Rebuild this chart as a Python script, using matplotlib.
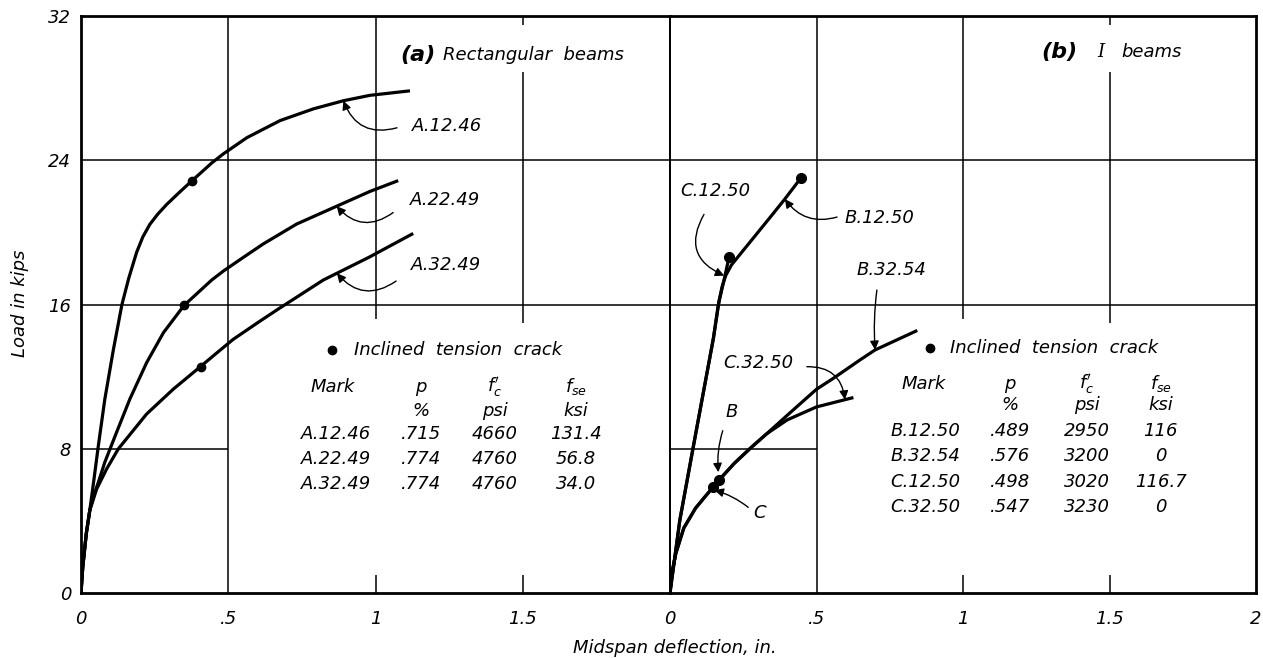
import numpy as np
import matplotlib
matplotlib.use("Agg")
import matplotlib.pyplot as plt

plt.rcParams['font.family'] = ['DejaVu Sans']
plt.rcParams['font.style'] = 'italic'
plt.rcParams['mathtext.fontset'] = 'dejavusans'

# ---------------- data (deflection in., load kips) ----------------
a1246_x = [0, 0.006, 0.018, 0.03, 0.044, 0.059, 0.081, 0.11, 0.139, 0.162, 0.189, 0.21, 0.234, 0.26, 0.291,
           0.336, 0.376, 0.444, 0.483, 0.563, 0.676, 0.789, 0.891, 0.981, 1.117]
a1246_y = [0, 1.45, 3.3, 4.6, 6.3, 8.18, 10.76, 13.5, 16.0, 17.45, 18.9, 19.75, 20.45, 21.0, 21.55,
           22.25, 22.85, 23.85, 24.35, 25.25, 26.2, 26.85, 27.3, 27.6, 27.85]
a2249_x = [0, 0.006, 0.018, 0.03, 0.045, 0.059, 0.081, 0.121, 0.166, 0.223, 0.28, 0.35, 0.444, 0.483, 0.55,
           0.619, 0.732, 0.868, 0.981, 1.077]
a2249_y = [0, 1.45, 3.3, 4.6, 5.5, 6.14, 7.26, 8.92, 10.76, 12.78, 14.44, 15.95, 17.36, 17.85, 18.6,
           19.36, 20.46, 21.45, 22.27, 22.87]
a3249_x = [0, 0.006, 0.018, 0.03, 0.04, 0.053, 0.087, 0.127, 0.223, 0.313, 0.406, 0.46, 0.517, 0.608, 0.67,
           0.823, 0.978, 1.128]
a3249_y = [0, 1.45, 3.3, 4.6, 5.1, 5.76, 6.88, 8.0, 9.93, 11.3, 12.56, 13.3, 14.07, 15.08, 15.75,
           17.36, 18.62, 19.94]

b1250_x = [0, 0.034, 0.0785, 0.148, 0.168, 0.178, 0.19, 0.21, 0.25, 0.3, 0.35, 0.392, 0.446]
b1250_y = [0, 4.07, 8.0, 14.13, 16.24, 17.0, 17.6, 18.2, 19.0, 20.0, 21.0, 21.85, 23.0]
c1250_x = [0, 0.033, 0.078, 0.148, 0.165, 0.185, 0.202]
c1250_y = [0, 4.0, 8.0, 14.1, 16.0, 17.4, 18.66]
b3254_x = [0, 0.005, 0.02, 0.047, 0.087, 0.12, 0.147, 0.167, 0.22, 0.279, 0.33, 0.41, 0.5, 0.557, 0.648, 0.70, 0.844]
b3254_y = [0, 1.0, 2.2, 3.6, 4.7, 5.35, 5.87, 6.26, 7.2, 8.1, 8.83, 10.0, 11.3, 11.9, 12.92, 13.48, 14.56]
c3250_x = [0, 0.005, 0.02, 0.047, 0.087, 0.12, 0.147, 0.167, 0.22, 0.279, 0.33, 0.4, 0.5, 0.626]
c3250_y = [0, 1.0, 2.2, 3.6, 4.7, 5.35, 5.87, 6.26, 7.2, 8.1, 8.83, 9.6, 10.32, 10.84]

# inclined tension crack points
crack_a_x = [0.376, 0.35, 0.406]
crack_a_y = [22.85, 15.95, 12.56]
crack_b_x = [0.446, 0.202, 0.167, 0.147]
crack_b_y = [23.0, 18.66, 6.26, 5.87]

# tables
tab_a_rows = [["A.12.46", ".715", "4660", "131.4"],
              ["A.22.49", ".774", "4760", "56.8"],
              ["A.32.49", ".774", "4760", "34.0"]]
tab_b_rows = [["B.12.50", ".489", "2950", "116"],
              ["B.32.54", ".576", "3200", "0"],
              ["C.12.50", ".498", "3020", "116.7"],
              ["C.32.50", ".547", "3230", "0"]]

y_ticks = [0, 8, 16, 24, 32]
x_ticks_a = [0, 0.5, 1, 1.5]
x_labels_a = ["0", ".5", "1", "1.5"]
x_ticks_b = [0, 0.5, 1, 1.5, 2]
x_labels_b = ["0", ".5", "1", "1.5", "2"]

# ---------------- figure ----------------
W, H = 1263, 658
fig = plt.figure(figsize=(W / 100, H / 100), dpi=100)
x0, x1, x2 = 81, 670, 1256
ybot, ytop = 593, 16
ax1 = fig.add_axes([x0 / W, (H - ybot) / H, (x1 - x0) / W, (ybot - ytop) / H])
ax2 = fig.add_axes([x1 / W, (H - ybot) / H, (x2 - x1) / W, (ybot - ytop) / H])

FS = 13
LW_CURVE = 2.3
LW_GRID = 1.1
K = 'black'

for ax, xt, xl in [(ax1, x_ticks_a, x_labels_a), (ax2, x_ticks_b, x_labels_b)]:
    ax.set_xlim(0, 2)
    ax.set_ylim(0, 32)
    ax.set_xticks(xt)
    ax.set_xticklabels(xl)
    ax.tick_params(axis='x', length=0, labelsize=FS, pad=12)
    ax.tick_params(axis='y', length=0, labelsize=FS, pad=7)
    for s in ax.spines.values():
        s.set_linewidth(2.0)
    # grid segments
    ax.hlines([24, 16], 0, 2, color=K, lw=LW_GRID)
    ax.hlines([8], 0, 0.5, color=K, lw=LW_GRID)
    ax.vlines([0.5], 0, 32, color=K, lw=LW_GRID)
    ax.vlines([1.0, 1.5], 0, 1.0, color=K, lw=LW_GRID)
    ax.vlines([1.0], 15.2, 32, color=K, lw=LW_GRID)
    ax.vlines([1.5], 15.0, 28.9, color=K, lw=LW_GRID)
    ax.vlines([1.5], 31.5, 32, color=K, lw=LW_GRID)

ax1.set_yticks(y_ticks)
ax1.set_yticklabels([str(v) for v in y_ticks])
ax2.set_yticks([])
ax2.spines['left'].set_linewidth(1.4)
ax1.spines['right'].set_linewidth(1.4)

# curves
for xs, ys in [(a1246_x, a1246_y), (a2249_x, a2249_y), (a3249_x, a3249_y)]:
    ax1.plot(xs, ys, color=K, lw=LW_CURVE, solid_capstyle='butt', solid_joinstyle='round')
for xs, ys in [(b1250_x, b1250_y), (c1250_x, c1250_y), (b3254_x, b3254_y), (c3250_x, c3250_y)]:
    ax2.plot(xs, ys, color=K, lw=LW_CURVE, solid_capstyle='butt', solid_joinstyle='round')
ax1.plot(crack_a_x, crack_a_y, 'o', color=K, ms=6, zorder=5)
ax2.plot(crack_b_x, crack_b_y, 'o', color=K, ms=7, zorder=5)

# annotations
def lead(ax, label, txy, tip, tail, rad, ha='left', va='center'):
    ax.text(txy[0], txy[1], label, fontsize=FS, ha=ha, va=va)
    ax.annotate('', xy=tip, xytext=tail,
                arrowprops=dict(arrowstyle='-|>', color=K, lw=1.0, mutation_scale=13,
                                shrinkA=0, shrinkB=0, connectionstyle='arc3,rad=%s' % rad))

lead(ax1, 'A.12.46', (1.124, 25.9), (0.891, float(np.interp(0.891, a1246_x, a1246_y))), (1.073, 25.8), -0.45)
lead(ax1, 'A.22.49', (1.117, 21.8), (0.868, float(np.interp(0.868, a2249_x, a2249_y))), (1.06, 21.1), -0.45)
lead(ax1, 'A.32.49', (1.12, 18.2), (0.869, float(np.interp(0.869, a3249_x, a3249_y))), (1.07, 17.3), -0.45)

lead(ax2, 'B.12.50', (0.597, 20.8), (0.392, float(np.interp(0.392, b1250_x, b1250_y))), (0.57, 20.85), -0.35)
lead(ax2, 'C.12.50', (0.154, 22.3), (0.185, 17.6), (0.116, 21.0), 0.55, ha='center')
lead(ax2, 'B.32.54', (0.755, 17.93), (0.70, float(np.interp(0.70, b3254_x, b3254_y))), (0.706, 16.8), 0.05, ha='center')
lead(ax2, 'C.32.50', (0.301, 12.75), (0.597, float(np.interp(0.597, c3250_x, c3250_y))), (0.467, 12.55), -0.45, ha='center')
lead(ax2, 'B', (0.21, 10.05), (0.165, 6.7), (0.18, 9.0), 0.1, ha='center')
lead(ax2, 'C', (0.307, 4.45), (0.152, 5.7), (0.267, 4.75), 0.1, ha='center')

# titles
ax1.text(1.083, 29.85, '(a)', fontsize=16, fontweight='bold', va='center')
ax1.text(1.23, 29.85, 'Rectangular  beams', fontsize=FS, va='center')
ax2.text(1.266, 30.0, '(b)', fontsize=16, fontweight='bold', va='center')
ax2.text(1.457, 30.0, 'I', fontsize=FS, family='DejaVu Serif', va='center')
ax2.text(1.539, 30.0, 'beams', fontsize=FS, va='center')

# legend + tables
def table(ax, x_mark, x_hmark, x_p, x_fc, x_fse, y_leg, x_dot, x_legtxt, y_h1, y_h2, row_ys, rows):
    ax.plot([x_dot], [y_leg], 'o', color=K, ms=6)
    ax.text(x_legtxt, y_leg, 'Inclined  tension  crack', fontsize=FS, va='center')
    ax.text(x_hmark, y_h1, 'Mark', fontsize=FS, va='center')
    ax.text(x_p, y_h1, 'p', fontsize=FS, va='center', ha='center')
    ax.text(x_p, y_h2, '%', fontsize=FS, va='center', ha='center')
    ax.text(x_fc, y_h1, r"$f_c'$", fontsize=FS, va='center', ha='center')
    ax.text(x_fc, y_h2, 'psi', fontsize=FS, va='center', ha='center')
    ax.text(x_fse, y_h1, r"$f_{se}$", fontsize=FS, va='center', ha='center')
    ax.text(x_fse, y_h2, 'ksi', fontsize=FS, va='center', ha='center')
    for yy, r in zip(row_ys, rows):
        ax.text(x_mark, yy, r[0], fontsize=FS, va='center')
        ax.text(x_p, yy, r[1], fontsize=FS, va='center', ha='center')
        ax.text(x_fc, yy, r[2], fontsize=FS, va='center', ha='center')
        ax.text(x_fse, yy, r[3], fontsize=FS, va='center', ha='center')

table(ax1, 0.747, 0.78, 1.155, 1.405, 1.68, 13.46, 0.852, 0.927, 11.45, 10.1,
      [8.83, 7.43, 6.03], tab_a_rows)
table(ax2, 0.751, 0.79, 1.16, 1.423, 1.675, 13.58, 0.887, 0.956, 11.6, 10.45,
      [8.99, 7.6, 6.15, 4.75], tab_b_rows)

fig.text(20 / W, 1 - 303 / H, 'Load in kips', rotation=90, fontsize=FS, ha='center', va='center')
fig.text(675 / W, 1 - 648 / H, 'Midspan deflection, in.', fontsize=FS, ha='center', va='center')

fig.savefig('out.png', dpi=100, facecolor='white')
